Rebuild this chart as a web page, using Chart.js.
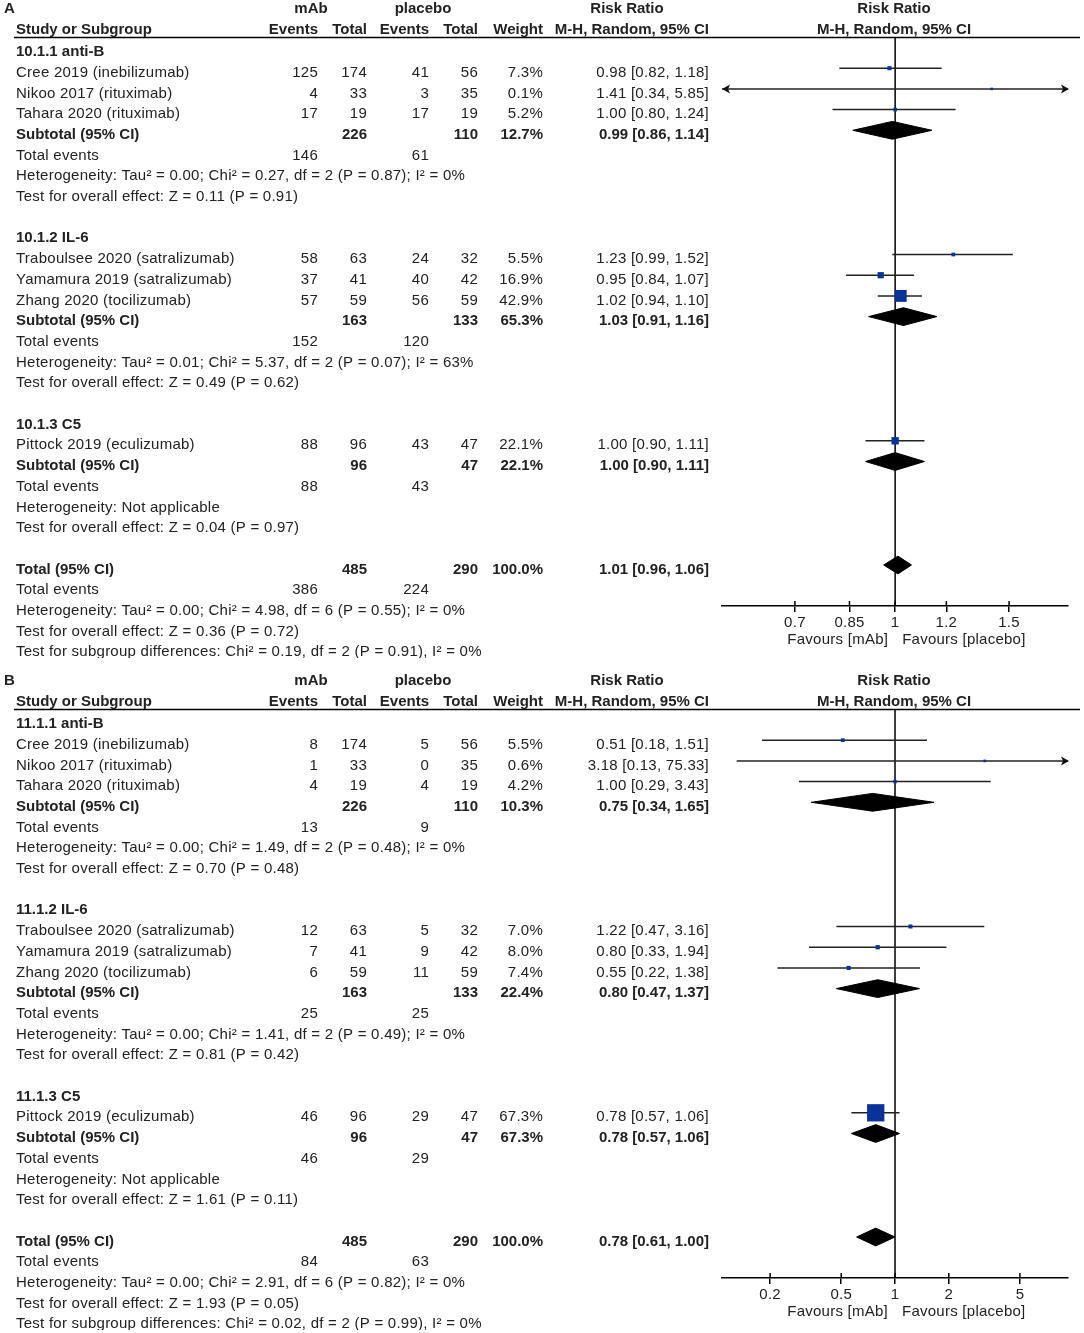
<!DOCTYPE html>
<html>
<head>
<meta charset="utf-8">
<script src="https://cdn.jsdelivr.net/npm/chart.js@4.4.1/dist/chart.umd.min.js"></script>
<style>
  html, body { margin: 0; padding: 0; background: #fff; }
  #wrap { position: relative; width: 1084px; height: 1333px; overflow: hidden; }
  canvas { position: absolute; left: 0; }
  #panelA { top: 0; }
  #panelB { top: 672px; }
</style>
</head>
<body>
<div id="wrap">
  <canvas id="panelA" width="1084" height="672"></canvas>
  <canvas id="panelB" width="1084" height="661"></canvas>
</div>
<script>
// ---- data ----
const panelLabels = ['A', 'B'];
const subgroupNames = [
  ['10.1.1 anti-B', '10.1.2 IL-6', '10.1.3 C5'],
  ['11.1.1 anti-B', '11.1.2 IL-6', '11.1.3 C5']
];
const studyNames = [
  'Cree 2019 (inebilizumab)', 'Nikoo 2017 (rituximab)', 'Tahara 2020 (rituximab)',
  'Traboulsee 2020 (satralizumab)', 'Yamamura 2019 (satralizumab)', 'Zhang 2020 (tocilizumab)',
  'Pittock 2019 (eculizumab)'
];
const studyGroup = [0, 0, 0, 1, 1, 1, 2];
const mabTotal = [174, 33, 19, 63, 41, 59, 96];
const placeboTotal = [56, 35, 19, 32, 42, 59, 47];
const subMabTotal = [226, 163, 96];
const subPlaceboTotal = [110, 133, 47];

// panel A
const mabEventsA = [125, 4, 17, 58, 37, 57, 88];
const placeboEventsA = [41, 3, 17, 24, 40, 56, 43];
const weightA = [7.3, 0.1, 5.2, 5.5, 16.9, 42.9, 22.1];
const rrA = [0.98, 1.41, 1.00, 1.23, 0.95, 1.02, 1.00];
const lowA = [0.82, 0.34, 0.80, 0.99, 0.84, 0.94, 0.90];
const highA = [1.18, 5.85, 1.24, 1.52, 1.07, 1.10, 1.11];
const subMabEventsA = [146, 152, 88];
const subPlaceboEventsA = [61, 120, 43];
const subWeightA = [12.7, 65.3, 22.1];
const subRrA = [0.99, 1.03, 1.00];
const subLowA = [0.86, 0.91, 0.90];
const subHighA = [1.14, 1.16, 1.11];
const subHetA = [
  'Heterogeneity: Tau\u00b2 = 0.00; Chi\u00b2 = 0.27, df = 2 (P = 0.87); I\u00b2 = 0%',
  'Heterogeneity: Tau\u00b2 = 0.01; Chi\u00b2 = 5.37, df = 2 (P = 0.07); I\u00b2 = 63%',
  'Heterogeneity: Not applicable'
];
const subTestA = [
  'Test for overall effect: Z = 0.11 (P = 0.91)',
  'Test for overall effect: Z = 0.49 (P = 0.62)',
  'Test for overall effect: Z = 0.04 (P = 0.97)'
];

// panel B
const mabEventsB = [8, 1, 4, 12, 7, 6, 46];
const placeboEventsB = [5, 0, 4, 5, 9, 11, 29];
const weightB = [5.5, 0.6, 4.2, 7.0, 8.0, 7.4, 67.3];
const rrB = [0.51, 3.18, 1.00, 1.22, 0.80, 0.55, 0.78];
const lowB = [0.18, 0.13, 0.29, 0.47, 0.33, 0.22, 0.57];
const highB = [1.51, 75.33, 3.43, 3.16, 1.94, 1.38, 1.06];
const subMabEventsB = [13, 25, 46];
const subPlaceboEventsB = [9, 25, 29];
const subWeightB = [10.3, 22.4, 67.3];
const subRrB = [0.75, 0.80, 0.78];
const subLowB = [0.34, 0.47, 0.57];
const subHighB = [1.65, 1.37, 1.06];
const subHetB = [
  'Heterogeneity: Tau\u00b2 = 0.00; Chi\u00b2 = 1.49, df = 2 (P = 0.48); I\u00b2 = 0%',
  'Heterogeneity: Tau\u00b2 = 0.00; Chi\u00b2 = 1.41, df = 2 (P = 0.49); I\u00b2 = 0%',
  'Heterogeneity: Not applicable'
];
const subTestB = [
  'Test for overall effect: Z = 0.70 (P = 0.48)',
  'Test for overall effect: Z = 0.81 (P = 0.42)',
  'Test for overall effect: Z = 1.61 (P = 0.11)'
];

// overall rows, one entry per panel
const totalMab = [485, 485];
const totalPlacebo = [290, 290];
const totalEventsMab = [386, 84];
const totalEventsPlacebo = [224, 63];
const totalRr = [1.01, 0.78];
const totalLow = [0.96, 0.61];
const totalHigh = [1.06, 1.00];
const totalHet = [
  'Heterogeneity: Tau\u00b2 = 0.00; Chi\u00b2 = 4.98, df = 6 (P = 0.55); I\u00b2 = 0%',
  'Heterogeneity: Tau\u00b2 = 0.00; Chi\u00b2 = 2.91, df = 6 (P = 0.82); I\u00b2 = 0%'
];
const totalTest = [
  'Test for overall effect: Z = 0.36 (P = 0.72)',
  'Test for overall effect: Z = 1.93 (P = 0.05)'
];
const subgroupDiff = [
  'Test for subgroup differences: Chi\u00b2 = 0.19, df = 2 (P = 0.91), I\u00b2 = 0%',
  'Test for subgroup differences: Chi\u00b2 = 0.02, df = 2 (P = 0.99), I\u00b2 = 0%'
];

// axis
const axisMin = [0.54, 0.1076];
const axisMax = [1.85, 9.29];
const tickValues = [[0.7, 0.85, 1, 1.2, 1.5], [0.2, 0.5, 1, 2, 5]];

// ---- layout ----
const FONT = '"Liberation Sans", Arial, sans-serif';
const COL = { name: 16, mabEv: 318, mabTot: 367, pboEv: 429, pboTot: 478, weight: 543, ci: 709 };
const Y_MIN = -0.459, Y_MAX = 26.98;
const CLIP_Y = 658;

const panels = [
  { mabEvents: mabEventsA, pboEvents: placeboEventsA, weight: weightA, rr: rrA, low: lowA, high: highA,
    subMabEv: subMabEventsA, subPboEv: subPlaceboEventsA, subWeight: subWeightA,
    subRr: subRrA, subLow: subLowA, subHigh: subHighA, subHet: subHetA, subTest: subTestA },
  { mabEvents: mabEventsB, pboEvents: placeboEventsB, weight: weightB, rr: rrB, low: lowB, high: highB,
    subMabEv: subMabEventsB, subPboEv: subPlaceboEventsB, subWeight: subWeightB,
    subRr: subRrB, subLow: subLowB, subHigh: subHighB, subHet: subHetB, subTest: subTestB }
];

function buildRows() {
  const rows = [], studyRow = [], subRow = [];
  let r = 0;
  for (let g = 0; g < 3; g++) {
    rows.push({ r: r++, kind: 'group', g });
    studyGroup.forEach((sg, i) => {
      if (sg === g) { studyRow[i] = r; rows.push({ r: r++, kind: 'study', i }); }
    });
    subRow[g] = r; rows.push({ r: r++, kind: 'subtotal', g });
    rows.push({ r: r++, kind: 'subEvents', g });
    rows.push({ r: r++, kind: 'subHet', g });
    rows.push({ r: r++, kind: 'subTest', g });
    r++;
  }
  const totalRow = r;
  rows.push({ r: r++, kind: 'total' });
  rows.push({ r: r++, kind: 'totalEvents' });
  rows.push({ r: r++, kind: 'totalHet' });
  rows.push({ r: r++, kind: 'totalTest' });
  rows.push({ r: r++, kind: 'diff' });
  return { rows, studyRow, subRow, totalRow };
}

const fmtCI = (e, l, h) => e.toFixed(2) + ' [' + l.toFixed(2) + ', ' + h.toFixed(2) + ']';
const fmtW = w => w.toFixed(1) + '%';

const tablePlugin = {
  id: 'forestTable',
  beforeDraw(chart) {
    // the source image renders text slightly wider than canvas Arial
    chart.ctx.letterSpacing = '0.25px';
  },
  afterDraw(chart) {
    const p = chart.options.plugins.forestTable.panel;
    const d = panels[p];
    const lay = chart.options.plugins.forestTable.layout;
    const ctx = chart.ctx, xs = chart.scales.x, ys = chart.scales.y, area = chart.chartArea;
    ctx.save();

    // header rule
    ctx.strokeStyle = '#000';
    ctx.lineWidth = 1.5;
    ctx.beginPath();
    ctx.moveTo(14, area.top - 0.5);
    ctx.lineTo(1080, area.top - 0.5);
    // upper half of tick marks
    tickValues[p].forEach(v => {
      const x = xs.getPixelForValue(v);
      ctx.moveTo(x, area.bottom - 5);
      ctx.lineTo(x, area.bottom);
    });
    ctx.stroke();

    // arrow heads for intervals running off the axis
    ctx.fillStyle = '#111';
    studyNames.forEach((n, i) => {
      const y = ys.getPixelForValue(lay.studyRow[i]);
      if (d.low[i] < axisMin[p]) {
        ctx.beginPath();
        ctx.moveTo(area.left, y); ctx.lineTo(area.left + 8, y - 4.5); ctx.lineTo(area.left + 6, y); ctx.lineTo(area.left + 8, y + 4.5);
        ctx.closePath(); ctx.fill();
      }
      if (d.high[i] > axisMax[p]) {
        ctx.beginPath();
        ctx.moveTo(area.right + 1, y); ctx.lineTo(area.right - 7, y - 4.5); ctx.lineTo(area.right - 5, y); ctx.lineTo(area.right - 7, y + 4.5);
        ctx.closePath(); ctx.fill();
      }
    });

    ctx.fillStyle = '#222';
    ctx.textBaseline = 'middle';
    const txt = (s, x, y, align, bold) => {
      ctx.font = (bold ? 'bold ' : '') + '15px ' + FONT;
      ctx.letterSpacing = bold ? '0px' : '0.25px';
      ctx.textAlign = align;
      ctx.fillText(String(s), x, y);
    };

    // favours labels under the axis
    const fy = area.bottom + 34;
    const x1 = xs.getPixelForValue(1);
    txt('Favours [mAb]', x1 - 7, fy, 'right', false);
    txt('Favours [placebo]', x1 + 7, fy, 'left', false);

    ctx.beginPath();
    ctx.rect(0, 0, chart.width, CLIP_Y);
    ctx.clip();

    const ty = r => ys.getPixelForValue(r) + 4.5;
    // headers
    let y = ty(-2) - 1.5;
    txt(panelLabels[p], 4, y, 'left', true);
    txt('mAb', 311, y, 'center', true);
    txt('placebo', 423, y, 'center', true);
    txt('Risk Ratio', 627, y, 'center', true);
    txt('Risk Ratio', 894, y, 'center', true);
    y = ty(-1) - 1;
    txt('Study or Subgroup', COL.name, y, 'left', true);
    txt('Events', COL.mabEv, y, 'right', true);
    txt('Total', COL.mabTot, y, 'right', true);
    txt('Events', COL.pboEv, y, 'right', true);
    txt('Total', COL.pboTot, y, 'right', true);
    txt('Weight', COL.weight, y, 'right', true);
    txt('M-H, Random, 95% CI', COL.ci, y, 'right', true);
    txt('M-H, Random, 95% CI', 894, y, 'center', true);

    lay.rows.forEach(row => {
      const y = ty(row.r), g = row.g, i = row.i;
      switch (row.kind) {
        case 'group':
          txt(subgroupNames[p][g], COL.name, y, 'left', true); break;
        case 'study':
          txt(studyNames[i], COL.name, y, 'left', false);
          txt(d.mabEvents[i], COL.mabEv, y, 'right', false);
          txt(mabTotal[i], COL.mabTot, y, 'right', false);
          txt(d.pboEvents[i], COL.pboEv, y, 'right', false);
          txt(placeboTotal[i], COL.pboTot, y, 'right', false);
          txt(fmtW(d.weight[i]), COL.weight, y, 'right', false);
          txt(fmtCI(d.rr[i], d.low[i], d.high[i]), COL.ci, y, 'right', false);
          break;
        case 'subtotal':
          txt('Subtotal (95% CI)', COL.name, y, 'left', true);
          txt(subMabTotal[g], COL.mabTot, y, 'right', true);
          txt(subPlaceboTotal[g], COL.pboTot, y, 'right', true);
          txt(fmtW(d.subWeight[g]), COL.weight, y, 'right', true);
          txt(fmtCI(d.subRr[g], d.subLow[g], d.subHigh[g]), COL.ci, y, 'right', true);
          break;
        case 'subEvents':
          txt('Total events', COL.name, y, 'left', false);
          txt(d.subMabEv[g], COL.mabEv, y, 'right', false);
          txt(d.subPboEv[g], COL.pboEv, y, 'right', false);
          break;
        case 'subHet': txt(d.subHet[g], COL.name, y, 'left', false); break;
        case 'subTest': txt(d.subTest[g], COL.name, y, 'left', false); break;
        case 'total':
          txt('Total (95% CI)', COL.name, y, 'left', true);
          txt(totalMab[p], COL.mabTot, y, 'right', true);
          txt(totalPlacebo[p], COL.pboTot, y, 'right', true);
          txt(fmtW(100), COL.weight, y, 'right', true);
          txt(fmtCI(totalRr[p], totalLow[p], totalHigh[p]), COL.ci, y, 'right', true);
          break;
        case 'totalEvents':
          txt('Total events', COL.name, y, 'left', false);
          txt(totalEventsMab[p], COL.mabEv, y, 'right', false);
          txt(totalEventsPlacebo[p], COL.pboEv, y, 'right', false);
          break;
        case 'totalHet': txt(totalHet[p], COL.name, y, 'left', false); break;
        case 'totalTest': txt(totalTest[p], COL.name, y, 'left', false); break;
        case 'diff': txt(subgroupDiff[p], COL.name, y, 'left', false); break;
      }
    });
    ctx.restore();
  }
};

function diamond(lo, est, hi, r) {
  const h = 0.43;
  return [{ x: lo, y: r }, { x: est, y: r - h }, { x: hi, y: r }, { x: est, y: r + h }, { x: lo, y: r }];
}

function makeChart(p, canvasId, canvasHeight) {
  const d = panels[p];
  const lay = buildRows();
  const datasets = [];

  // line of no effect
  datasets.push({ data: [{ x: 1, y: Y_MIN }, { x: 1, y: Y_MAX }], showLine: true,
    borderColor: '#000', borderWidth: 1.5, pointRadius: 0, order: 10 });

  // study confidence intervals
  studyNames.forEach((n, i) => {
    const r = lay.studyRow[i];
    datasets.push({ data: [{ x: d.low[i], y: r }, { x: d.high[i], y: r }], showLine: true,
      borderColor: '#222', borderWidth: 1.5, pointRadius: 0, order: 5 });
  });

  // subtotal and total diamonds
  for (let g = 0; g < 3; g++) {
    datasets.push({ data: diamond(d.subLow[g], d.subRr[g], d.subHigh[g], lay.subRow[g]),
      showLine: true, fill: 'shape', backgroundColor: '#000', borderColor: '#000',
      borderWidth: 1, pointRadius: 0, order: 4 });
  }
  datasets.push({ data: diamond(totalLow[p], totalRr[p], totalHigh[p], lay.totalRow),
    showLine: true, fill: 'shape', backgroundColor: '#000', borderColor: '#000',
    borderWidth: 1, pointRadius: 0, order: 4 });

  // point estimates, square size follows weight
  datasets.push({
    data: studyNames.map((n, i) => ({ x: d.rr[i], y: lay.studyRow[i] })),
    pointStyle: 'rect',
    pointRadius: d.weight.map(w => (2.5 + 0.22 * w) / Math.SQRT2),
    backgroundColor: '#0a3399', borderColor: '#0a3399', borderWidth: 0,
    showLine: false, order: 1
  });

  return new Chart(document.getElementById(canvasId), {
    type: 'scatter',
    data: { datasets },
    options: {
      responsive: false,
      animation: false,
      events: [],
      layout: { padding: { left: 722, right: 16, top: 38, bottom: canvasHeight - 606 - 40 } },
      scales: {
        x: {
          type: 'logarithmic',
          min: axisMin[p],
          max: axisMax[p],
          afterBuildTicks: s => { s.ticks = tickValues[p].map(v => ({ value: v })); },
          afterFit: s => { s.height = 40; },
          ticks: {
            autoSkip: false, maxRotation: 0, padding: 2,
            color: '#222', font: { family: FONT, size: 15 },
            callback: v => String(v)
          },
          grid: { display: true, drawOnChartArea: false, drawTicks: true, tickLength: 6, color: '#000', lineWidth: 1.5 },
          border: { display: true, color: '#000', width: 1.5 }
        },
        y: { type: 'linear', reverse: true, min: Y_MIN, max: Y_MAX, display: false }
      },
      plugins: {
        legend: { display: false },
        tooltip: { enabled: false },
        forestTable: { panel: p, layout: lay }
      }
    },
    plugins: [tablePlugin]
  });
}

makeChart(0, 'panelA', 672);
makeChart(1, 'panelB', 661);
</script>
</body>
</html>
